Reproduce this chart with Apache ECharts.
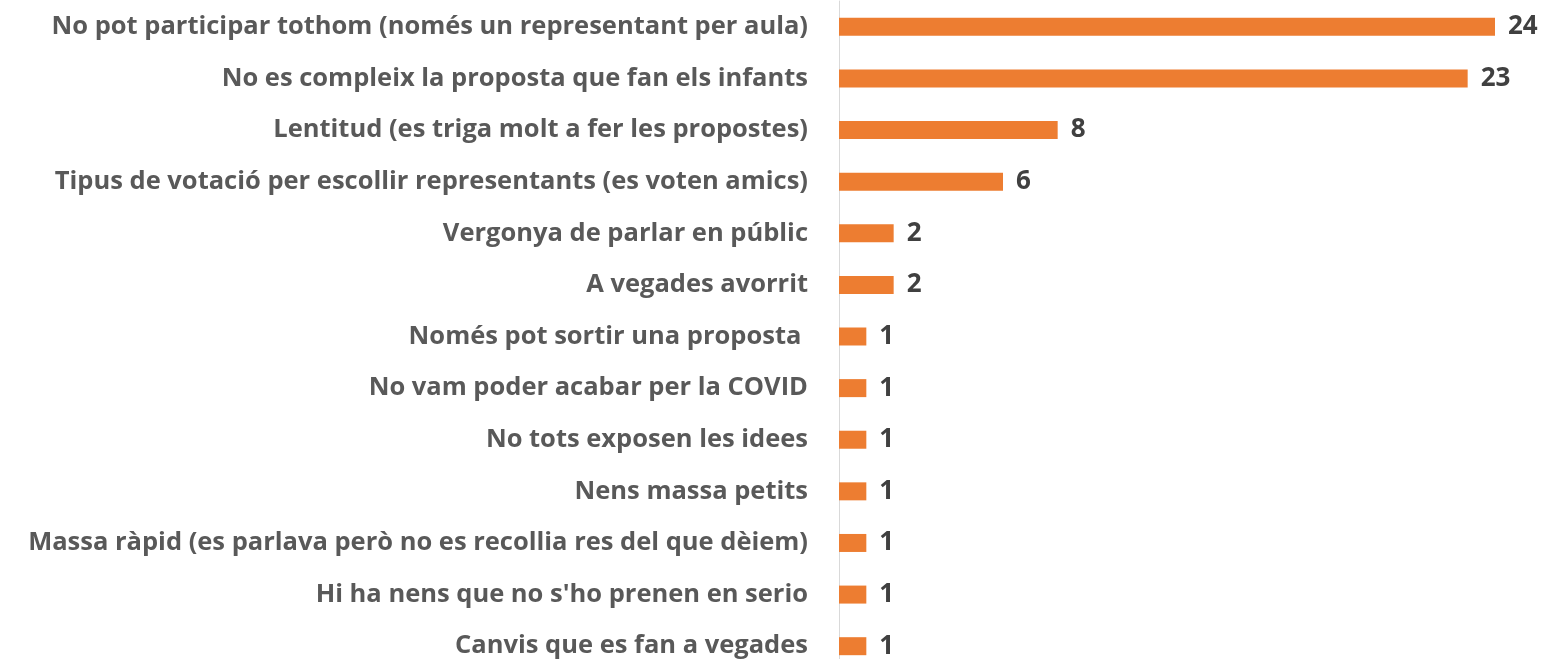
<!DOCTYPE html>
<html>
<head>
<meta charset="utf-8">
<script src="https://cdn.jsdelivr.net/npm/echarts@6/dist/echarts.min.js"></script>
<style>
  html, body { margin: 0; padding: 0; background: #fff; overflow: hidden; }
  #chart { width: 1543px; height: 680px; }
</style>
</head>
<body>
<div id="chart"></div>
<script>
// categories, top to bottom
const categories = [
  'No pot participar tothom (només un representant per aula)',
  'No es compleix la proposta que fan els infants',
  'Lentitud (es triga molt a fer les propostes)',
  'Tipus de votació per escollir representants (es voten amics)',
  'Vergonya de parlar en públic',
  'A vegades avorrit',
  'Només pot sortir una proposta ',
  'No vam poder acabar per la COVID',
  'No tots exposen les idees',
  'Nens massa petits',
  'Massa ràpid (es parlava però no es recollia res del que dèiem)',
  "Hi ha nens que no s'ho prenen en serio",
  'Canvis que es fan a vegades'
]
const counts = [24, 23, 8, 6, 2, 2, 1, 1, 1, 1, 1, 1, 1]

const myChart = echarts.init(document.getElementById('chart'))
myChart.setOption({
  animation: false,
  textStyle: { fontFamily: 'Open Sans' },
  grid: {
    left: 839,
    top: 1,
    width: 656,
    height: 671,
    containLabel: false
  },
  xAxis: {
    type: 'value',
    min: 0,
    max: 24,
    show: false
  },
  yAxis: {
    type: 'category',
    inverse: true,
    data: categories,
    axisTick: { show: false },
    axisLine: {
      show: true,
      lineStyle: { color: '#d9d9d9', width: 1 }
    },
    axisLabel: {
      margin: 31,
      fontSize: 25.5,
      fontWeight: 'bold',
      color: '#595959',
      fontFamily: 'Open Sans'
    }
  },
  series: [
    {
      type: 'bar',
      data: counts,
      barWidth: 18,
      itemStyle: { color: '#ed7d31' },
      label: {
        show: true,
        position: 'right',
        distance: 13,
        fontSize: 26,
        fontWeight: 'bold',
        color: '#404040',
        fontFamily: 'Open Sans'
      }
    }
  ]
})
window.addEventListener('resize', function() {
  myChart.resize()
})
</script>
</body>
</html>
